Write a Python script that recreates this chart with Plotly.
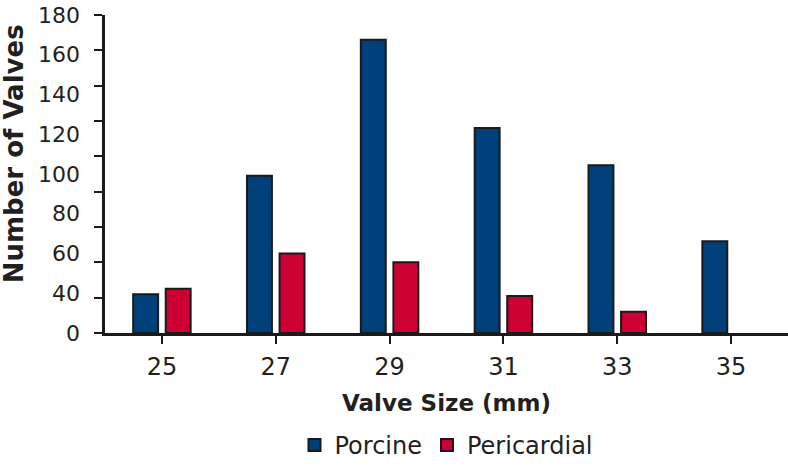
import plotly.graph_objects as go

# ---- data ----
valve_sizes = ["25", "27", "29", "31", "33", "35"]
porcine = [22, 89, 166, 116, 95, 52]
pericardial = [25, 45, 40, 21, 12, None]

# tick marks every 20 units; printed labels as they appear in the figure
tick_marks = [0, 20, 40, 60, 80, 100, 120, 140, 160, 180]
label_texts = ["0", "40", "60", "80", "100", "120", "140", "160", "180"]
label_positions = [0, 22.5, 45, 67.5, 90, 112.5, 135, 157.5, 180]

FONT = "DejaVu Sans, Liberation Sans, Arial, sans-serif"
INK = "#231f20"
BLUE = "#00407a"
RED = "#cc0033"
EDGE = "#1a1a1a"

fig = go.Figure()
fig.add_trace(go.Bar(name="Porcine", x=valve_sizes, y=porcine,
                     marker=dict(color=BLUE, line=dict(color=EDGE, width=2))))
fig.add_trace(go.Bar(name="Pericardial", x=valve_sizes, y=pericardial,
                     marker=dict(color=RED, line=dict(color=EDGE, width=2))))
# invisible carrier so the label axis (y2) is drawn
fig.add_trace(go.Scatter(x=valve_sizes, y=porcine, yaxis="y2", mode="none",
                         showlegend=False, hoverinfo="skip"))

fig.update_layout(
    width=788, height=468,
    margin=dict(l=105, r=0, t=15, b=130),
    paper_bgcolor="white", plot_bgcolor="white",
    font=dict(family=FONT, color=INK, size=22),
    barmode="group", bargap=0.428, bargroupgap=0.234,
    showlegend=True,
    legend=dict(orientation="h", x=0.5, xanchor="center", y=-0.3545, yanchor="middle",
                font=dict(size=24, family=FONT, color=INK), itemwidth=30,
                bgcolor="rgba(0,0,0,0)"),
    xaxis=dict(type="category", range=[-0.5, 5.5], showline=True, linecolor=EDGE,
               linewidth=2.5, ticks="outside", ticklen=8, tickwidth=2, tickcolor=EDGE,
               tickfont=dict(size=24, family=FONT, color=INK), ticklabelstandoff=2,
               showgrid=False, zeroline=False, automargin=False,
               title=dict(text="<b>Valve Size (mm)</b>", font=dict(size=23, family=FONT, color=INK),
                          standoff=16)),
    yaxis=dict(range=[0, 180], tickmode="array", tickvals=tick_marks,
               ticktext=[""] * len(tick_marks), showline=True, linecolor=EDGE,
               linewidth=2.5, ticks="outside", ticklen=8, tickwidth=2, tickcolor=EDGE,
               showgrid=False, zeroline=False, automargin=False),
    yaxis2=dict(overlaying="y", anchor="x", side="left", range=[0, 180],
                tickmode="array", tickvals=label_positions, ticktext=label_texts,
                ticks="", showline=False, showgrid=False, zeroline=False,
                tickfont=dict(size=22, family=FONT, color=INK), ticklabelstandoff=24,
                automargin=False),
    annotations=[dict(text="<b>Number of Valves</b>", textangle=-90,
                      xref="paper", yref="paper", x=-0.1332, y=0.562,
                      xanchor="center", yanchor="middle", showarrow=False,
                      font=dict(size=26, family=FONT, color=INK))],
)

page_js = (
    "document.documentElement.style.cssText='margin:0;padding:0;overflow:hidden';"
    "document.body.style.cssText='margin:0;padding:0;overflow:hidden';"
    "var gd=document.getElementById('{plot_id}');"
    "gd.style.position='absolute';gd.style.left='0px';gd.style.top='0px';"
)
fig.write_html("out.html", config={"displayModeBar": False}, post_script=page_js)
